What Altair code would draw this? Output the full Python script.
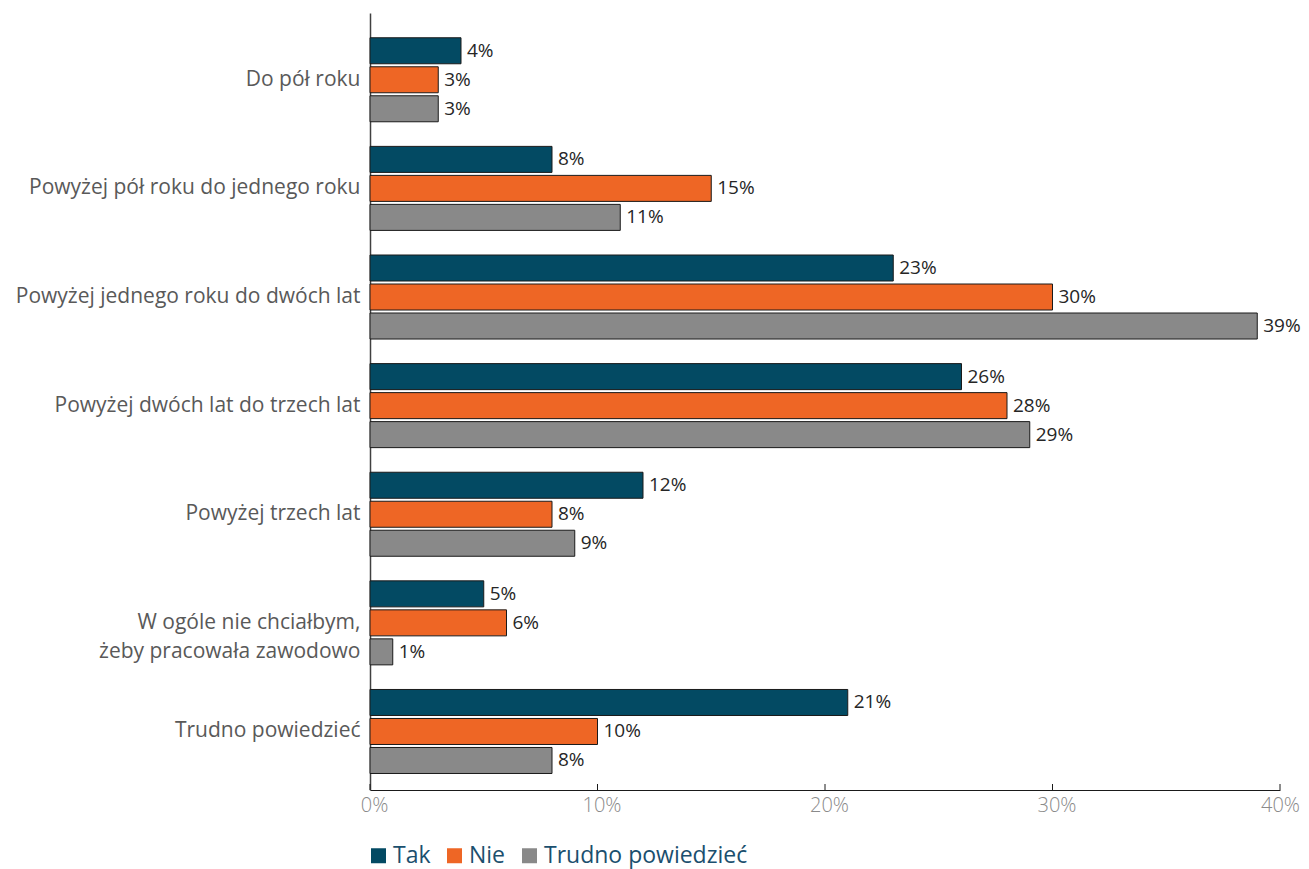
import altair as alt
import pandas as pd

categories = [
    "Do pół roku",
    "Powyżej pół roku do jednego roku",
    "Powyżej jednego roku do dwóch lat",
    "Powyżej dwóch lat do trzech lat",
    "Powyżej trzech lat",
    "W ogóle nie chciałbym,|żeby pracowała zawodowo",
    "Trudno powiedzieć",
]
series = ["Tak", "Nie", "Trudno powiedzieć"]
tak = [4, 8, 23, 26, 12, 5, 21]
nie = [3, 15, 30, 28, 8, 6, 10]
trudno = [3, 11, 39, 29, 9, 1, 8]
colors = ["#034A63", "#EE6625", "#898989"]
x_ticks = [0, 10, 20, 30, 40]

rows = []
for i, c in enumerate(categories):
    for s, vals in zip(series, [tak, nie, trudno]):
        rows.append({"cat": c, "series": s, "value": vals[i], "label": f"{vals[i]}%"})
df = pd.DataFrame(rows)
ticks_df = pd.DataFrame({"t": x_ticks})

W, H = 910, 777

y_enc = alt.Y(
    "cat:N",
    sort=categories,
    scale=alt.Scale(paddingInner=0.2265, paddingOuter=0.19, align=0.6),
    axis=alt.Axis(
        title=None,
        labelExpr="split(datum.label, '|')",
        labelFontSize=21,
        labelColor="#595959",
        labelFont="Open Sans",
        labelPadding=10,
        labelLineHeight=29,
        ticks=False,
        domainColor="#404040",
        domainWidth=1.5,
        labelLimit=400,
    ),
)
yoff = alt.YOffset("series:N", sort=series, scale=alt.Scale(paddingInner=0.103, paddingOuter=0))
x_enc = alt.X(
    "value:Q",
    scale=alt.Scale(domain=[0, 40], nice=False),
    axis=alt.Axis(
        title=None,
        values=x_ticks,
        labelExpr="datum.value + '%'",
        labelFontSize=20,
        labelColor="#8a8a8a",
        labelFont="Open Sans",
        labelFontWeight=300,
        labelPadding=5,
        labelOffset={"condition": {"test": "datum.value == 40", "value": 0}, "value": 4},
        labelFlush=False,
        tickSize=0,
        grid=False,
        domainColor="#1a1a1a",
        domainWidth=1.2,
    ),
)

bars = alt.Chart(df).mark_bar(stroke="#1a1a1a", strokeWidth=1).encode(
    x=x_enc,
    y=y_enc,
    yOffset=yoff,
    color=alt.Color(
        "series:N",
        sort=series,
        scale=alt.Scale(domain=series, range=colors),
        legend=alt.Legend(
            title=None,
            orient="none",
            legendX=-3,
            legendY=831,
            direction="horizontal",
            symbolType="square",
            symbolSize=225,
            symbolStrokeWidth=0,
            labelFontSize=23,
            labelFont="Open Sans",
            labelColor="#1B4F6E",
            labelOffset=3,
            labelLimit=400,
            columnPadding=12,
        ),
    ),
)

text = alt.Chart(df).mark_text(
    align="left", baseline="middle", dx=6, fontSize=19, font="Open Sans", color="#262626"
).encode(
    x=alt.X("value:Q"),
    y=alt.Y("cat:N", sort=categories),
    yOffset=alt.YOffset("series:N", sort=series),
    text="label:N",
)

tick_rules = alt.Chart(ticks_df).mark_rule(color="#1a1a1a", strokeWidth=1).encode(
    x=alt.X("t:Q"),
    y=alt.value(H - 6),
    y2=alt.value(H),
)

chart = (
    alt.layer(bars, text, tick_rules)
    .properties(
        width=W,
        height=H,
        autosize=alt.AutoSizeParams(type="none"),
        padding={"left": 362, "top": 5, "right": 21, "bottom": 79},
    )
    .configure_view(stroke=None)
)

chart.save("out.html", embed_options={"renderer": "svg", "actions": False})
